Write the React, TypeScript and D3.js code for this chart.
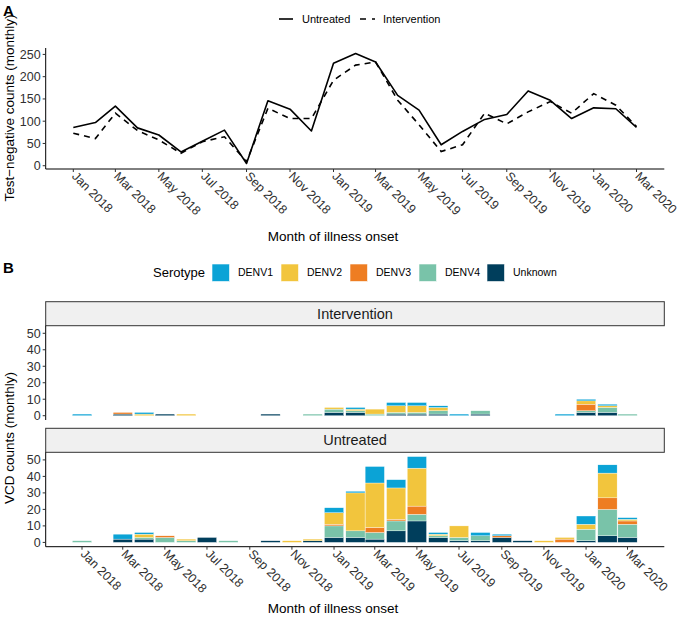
import React from "react";
import * as d3 from "d3";

// ---------- data ----------
const months = [
  "2018-01", "2018-02", "2018-03", "2018-04", "2018-05", "2018-06", "2018-07", "2018-08", "2018-09",
  "2018-10", "2018-11", "2018-12", "2019-01", "2019-02", "2019-03", "2019-04", "2019-05", "2019-06",
  "2019-07", "2019-08", "2019-09", "2019-10", "2019-11", "2019-12", "2020-01", "2020-02", "2020-03",
];

// Panel A: test-negative counts
const untreatedTN = [86, 97, 134, 85, 69, 31, 55, 80, 5, 146, 127, 78, 230, 252, 233, 158, 125, 47, 77, 104, 115, 168, 147, 106, 130, 128, 86];
const interventionTN = [73, 61, 118, 79, 58, 28, 54, 65, 9, 129, 106, 106, 192, 226, 233, 147, 92, 32, 47, 118, 94, 121, 144, 118, 162, 136, 88];

// Panel B: VCD counts by serotype
const serotypes = ["DENV1", "DENV2", "DENV3", "DENV4", "Unknown"];
const serotypeColors = ["#0BA3D6", "#F2C53D", "#EE7D22", "#79C3A9", "#003E5C"];

const intUnknown = [0, 0, 1, 0, 1, 0, 0, 0, 0, 1, 0, 0, 2, 2, 0, 1, 1, 1, 0, 1, 0, 0, 0, 0, 2, 2, 0];
const intDENV4 = [0, 0, 0, 0, 0, 0, 0, 0, 0, 0, 0, 1, 2, 1, 1, 1, 1, 2, 0, 2, 0, 0, 0, 0, 1, 3, 1];
const intDENV3 = [0, 0, 1, 0, 0, 0, 0, 0, 0, 0, 0, 0, 0, 0, 0, 0, 0, 0, 0, 0, 0, 0, 0, 0, 4, 0, 0];
const intDENV2 = [0, 0, 0, 1, 0, 1, 0, 0, 0, 0, 0, 0, 1, 1, 3, 4, 4, 2, 0, 0, 0, 0, 0, 0, 2, 1, 0];
const intDENV1 = [1, 0, 0, 1, 0, 0, 0, 0, 0, 0, 0, 0, 0, 1, 0, 2, 2, 1, 1, 0, 0, 0, 0, 1, 1, 1, 0];

const untUnknown = [0, 0, 2, 2, 0, 0, 3, 0, 0, 1, 0, 1, 3, 3, 2, 7, 13, 3, 1, 1, 3, 1, 0, 0, 1, 4, 3];
const untDENV4 = [1, 0, 0, 1, 3, 1, 0, 1, 0, 0, 0, 0, 7, 4, 4, 6, 4, 1, 2, 3, 0, 0, 0, 0, 7, 16, 8];
const untDENV3 = [0, 0, 0, 0, 1, 0, 0, 0, 0, 0, 0, 0, 1, 0, 3, 1, 5, 0, 0, 0, 1, 0, 0, 2, 0, 7, 2];
const untDENV2 = [0, 0, 0, 2, 0, 1, 0, 0, 0, 0, 1, 1, 7, 23, 27, 19, 23, 1, 7, 0, 0, 0, 1, 1, 3, 15, 1];
const untDENV1 = [0, 0, 3, 1, 0, 0, 0, 0, 0, 0, 0, 0, 3, 1, 10, 5, 7, 1, 0, 2, 1, 0, 0, 0, 5, 5, 1];

const tickMonths = [
  "2018-01", "2018-03", "2018-05", "2018-07", "2018-09", "2018-11", "2019-01",
  "2019-03", "2019-05", "2019-07", "2019-09", "2019-11", "2020-01", "2020-03",
];
const topYTicks = [0, 50, 100, 150, 200, 250];
const barYTicks = [0, 10, 20, 30, 40, 50];

// ---------- helpers ----------
const parse = d3.timeParse("%Y-%m");
const fmt = d3.timeFormat("%b %Y");
const dates = months.map((m) => parse(m) as Date);
const tickDates = tickMonths.map((m) => parse(m) as Date);
const FONT = "'Liberation Sans', Arial, Helvetica, sans-serif";
const TICK_COL = "#303030";

const stackKeys = ["Unknown", "DENV4", "DENV3", "DENV2", "DENV1"];
const colorOf: Record<string, string> = {};
serotypes.forEach((s, i) => (colorOf[s] = serotypeColors[i]));

function buildRows(u: number[], d4: number[], d3v: number[], d2: number[], d1: number[]) {
  return months.map((_, i) => ({
    date: dates[i],
    Unknown: u[i],
    DENV4: d4[i],
    DENV3: d3v[i],
    DENV2: d2[i],
    DENV1: d1[i],
  }));
}

export default function App() {
  const L = 45.7;
  const R = 664.3;

  // Panel A scales
  const xTop = d3.scaleTime().domain([dates[0], dates[dates.length - 1]]).range([73.3, 636.5]);
  const yTop = d3.scaleLinear().domain([-7.35, 264.4]).range([169, 48]);
  const topAxisY = 169;

  // Panel B scales
  const xBot = d3.scaleTime().domain([dates[0], dates[dates.length - 1]]).range([82, 627.5]);
  const yInt = d3.scaleLinear().domain([-2.6, 54.6]).range([420, 325.7]);
  const yUnt = d3.scaleLinear().domain([-2.6, 54.6]).range([546.7, 452.3]);
  const botAxisY = 546.7;
  const bw = (xBot(dates[1]) - xBot(dates[0])) * 0.9;

  const stack = d3.stack<any>().keys(stackKeys);
  const intSeries = stack(buildRows(intUnknown, intDENV4, intDENV3, intDENV2, intDENV1));
  const untSeries = stack(buildRows(untUnknown, untDENV4, untDENV3, untDENV2, untDENV1));

  const line = d3
    .line<number>()
    .x((_, i) => xTop(dates[i]))
    .y((d) => yTop(d));

  const renderBars = (series: any[], y: d3.ScaleLinear<number, number>, key: string) =>
    series.map((s) => (
      <g key={key + s.key} fill={colorOf[s.key]}>
        {s.map((d: any, i: number) =>
          d[1] - d[0] > 0 ? (
            <rect
              key={i}
              x={xBot(dates[i]) - bw / 2}
              y={y(d[1])}
              width={bw}
              height={y(d[0]) - y(d[1])}
              stroke="#ffffff"
              strokeWidth={0.35}
            />
          ) : null
        )}
      </g>
    ));

  const yAxis = (y: d3.ScaleLinear<number, number>, ticks: number[], top: number, bottom: number, key: string) => (
    <g key={key}>
      <line x1={L} x2={L} y1={top} y2={bottom} stroke="#000" strokeWidth={1} />
      {ticks.map((t) => (
        <g key={t}>
          <line x1={L - 3} x2={L} y1={y(t)} y2={y(t)} stroke={TICK_COL} strokeWidth={1} />
          <text x={L - 5} y={y(t)} dy="0.35em" textAnchor="end" fontSize={12.5} fill={TICK_COL}>
            {t}
          </text>
        </g>
      ))}
    </g>
  );

  const xAxis = (x: d3.ScaleTime<number, number>, axisY: number, key: string) => (
    <g key={key}>
      <line x1={L} x2={R} y1={axisY} y2={axisY} stroke="#000" strokeWidth={1} />
      {tickDates.map((d, i) => (
        <g key={i}>
          <line x1={x(d)} x2={x(d)} y1={axisY} y2={axisY + 3} stroke={TICK_COL} strokeWidth={1} />
          <text
            transform={`translate(${x(d) + 1},${axisY + 5}) rotate(45)`}
            dy="0.35em"
            textAnchor="start"
            fontSize={12.5}
            fill={TICK_COL}
          >
            {fmt(d)}
          </text>
        </g>
      ))}
    </g>
  );

  const legendKeysX = [212, 281, 350, 419, 487];

  return (
    <svg
      width={685}
      height={622}
      style={{ position: "absolute", left: 0, top: 0, background: "#fff" }}
      fontFamily={FONT}
    >
      <rect x={0} y={0} width={685} height={622} fill="#fff" />

      {/* ---------- Panel A ---------- */}
      <text x={3} y={16} fontSize={15} fontWeight="bold">A</text>

      {/* legend */}
      <line x1={279} x2={293} y1={19} y2={19} stroke="#000" strokeWidth={1.6} />
      <text x={302} y={19} dy="0.35em" fontSize={11}>Untreated</text>
      <line x1={360} x2={375} y1={19} y2={19} stroke="#000" strokeWidth={1.6} strokeDasharray="6,6" />
      <text x={383} y={19} dy="0.35em" fontSize={11}>Intervention</text>

      {yAxis(yTop, topYTicks, 48, topAxisY, "ya")}
      {xAxis(xTop, topAxisY, "xa")}

      <path d={line(untreatedTN) || ""} fill="none" stroke="#000" strokeWidth={1.6} strokeLinejoin="round" />
      <path d={line(interventionTN) || ""} fill="none" stroke="#000" strokeWidth={1.6} strokeDasharray="6,5" />

      <text
        transform="translate(14,108) rotate(-90)"
        textAnchor="middle"
        fontSize={13.5}
      >
        Test−negative counts (monthly)
      </text>
      <text x={333} y={241} textAnchor="middle" fontSize={13.5}>Month of illness onset</text>

      {/* ---------- Panel B ---------- */}
      <text x={3} y={273} fontSize={15} fontWeight="bold">B</text>

      <text x={153} y={272.5} dy="0.35em" fontSize={13}>Serotype</text>
      {serotypes.map((s, i) => (
        <g key={s}>
          <rect x={legendKeysX[i]} y={264} width={17.5} height={17.5} fill={serotypeColors[i]} stroke="#fff" strokeWidth={0.6} />
          <text x={legendKeysX[i] + 26} y={272.5} dy="0.35em" fontSize={10.5}>{s}</text>
        </g>
      ))}

      {/* strips */}
      <rect x={L} y={301.7} width={R - L} height={24} fill="#F0F0F0" stroke="#333" strokeWidth={1} />
      <text x={(L + R) / 2} y={313.7} dy="0.35em" textAnchor="middle" fontSize={14.5} fill="#1a1a1a">Intervention</text>
      <rect x={L} y={428.3} width={R - L} height={24} fill="#F0F0F0" stroke="#333" strokeWidth={1} />
      <text x={(L + R) / 2} y={440.3} dy="0.35em" textAnchor="middle" fontSize={14.5} fill="#1a1a1a">Untreated</text>

      {renderBars(intSeries, yInt, "i")}
      {renderBars(untSeries, yUnt, "u")}

      {yAxis(yInt, barYTicks, 325.7, 420, "yi")}
      {yAxis(yUnt, barYTicks, 452.3, botAxisY, "yu")}
      {xAxis(xBot, botAxisY, "xb")}

      <text transform="translate(14,438) rotate(-90)" textAnchor="middle" fontSize={13.5}>
        VCD counts (monthly)
      </text>
      <text x={333} y={613} textAnchor="middle" fontSize={13.5}>Month of illness onset</text>
    </svg>
  );
}
